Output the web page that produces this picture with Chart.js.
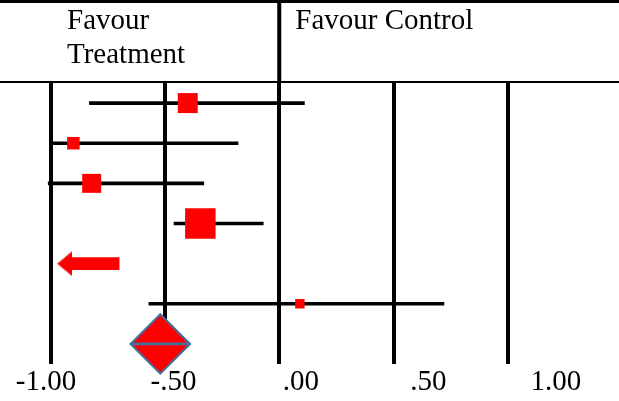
<!DOCTYPE html>
<html>
<head>
<meta charset="utf-8">
<script src="https://cdn.jsdelivr.net/npm/chart.js@4/dist/chart.umd.min.js"></script>
<style>
  html, body { margin: 0; padding: 0; background: #fff; }
  #wrap { width: 619px; height: 401px; position: relative; }
</style>
</head>
<body>
<div id="wrap"><canvas id="forest"></canvas></div>
<script>
// study rows (top to bottom), row 5 is the off-scale study drawn as an arrow
const studies = ['Study 1', 'Study 2', 'Study 3', 'Study 4', 'Study 5', 'Study 6'];
const estimates = [-0.40, -0.90, -0.82, -0.345, null, 0.09];
const lowerCI = [-0.83, -0.99, -1.01, -0.46, null, -0.57];
const upperCI = [0.11, -0.18, -0.33, -0.07, null, 0.72];
const weights = [20.6, 8.1, 18.6, 48.0, null, 4.6];

const arrowRow = 5;
const arrowTail = -0.70;
const arrowTip = -0.97;

const pooledEst = -0.52;
const pooledLo = -0.65;
const pooledHi = -0.39;
const pooledRow = 7;

const tickValues = [-1, -0.5, 0, 0.5, 1];
const tickLabels = ['-1.00', '-.50', '.00', '.50', '1.00'];

const RED = '#ff0000';
const BLUE = '#41719c';
const FONT = '"Liberation Serif", "Times New Roman", serif';

// arrow head glyph used as a point style
function makeArrowHead() {
    const c = document.createElement('canvas');
    c.width = 15;
    c.height = 25;
    const g = c.getContext('2d');
    g.fillStyle = RED;
    g.beginPath();
    g.moveTo(0, 12.5);
    g.lineTo(15, 0);
    g.lineTo(15, 25);
    g.closePath();
    g.fill();
    return c;
}

const ciData = [];
const pointData = [];
const pointSizes = [];
studies.forEach((s, i) => {
    if (lowerCI[i] !== null) ciData.push({ x: [lowerCI[i], upperCI[i]], y: i + 1 });
    if (estimates[i] !== null) {
        pointData.push({ x: estimates[i], y: i + 1 });
        // square side grows with sqrt of weight
        pointSizes.push(Math.sqrt(weights[i]) * 4.4 / Math.SQRT2);
    }
});

const headerPlugin = {
    id: 'header',
    afterDraw(chart) {
        const ctx = chart.ctx;
        const area = chart.chartArea;
        const x0 = chart.scales.x.getPixelForValue(0);
        ctx.save();
        ctx.strokeStyle = '#000';
        ctx.lineWidth = 3;
        ctx.beginPath();
        ctx.moveTo(0, 1.5);
        ctx.lineTo(chart.width, 1.5);
        ctx.stroke();
        ctx.lineWidth = 2;
        ctx.beginPath();
        ctx.moveTo(0, area.top - 1);
        ctx.lineTo(chart.width, area.top - 1);
        ctx.stroke();
        ctx.lineWidth = 4;
        ctx.beginPath();
        ctx.moveTo(x0, 0);
        ctx.lineTo(x0, area.top);
        ctx.stroke();

        ctx.fillStyle = '#000';
        ctx.font = '29px ' + FONT;
        ctx.textBaseline = 'alphabetic';
        ctx.textAlign = 'left';
        ctx.fillText('Favour', 67, 29);
        ctx.fillText('Treatment', 67, 63);
        ctx.fillText('Favour Control', x0 + 16, 29);
        ctx.restore();
    }
};

const ticksFromList = axis => { axis.ticks = tickValues.map(v => ({ value: v })); };

new Chart(document.getElementById('forest'), {
    type: 'scatter',
    data: {
        datasets: [
            {
                // pooled estimate centre line
                type: 'bar',
                indexAxis: 'y',
                data: [{ x: [pooledLo, pooledHi], y: pooledRow }],
                backgroundColor: BLUE,
                barThickness: 2,
                grouped: false,
                clip: false,
                order: 0
            },
            {
                label: 'Pooled',
                data: [{ x: pooledEst, y: pooledRow }],
                pointStyle: 'rectRot',
                pointRadius: ctx => {
                    const s = ctx.chart.scales.x;
                    return (s.getPixelForValue(pooledHi) - s.getPixelForValue(pooledLo)) / 2;
                },
                backgroundColor: RED,
                borderColor: BLUE,
                borderWidth: 2,
                clip: false,
                order: 1
            },
            {
                label: 'Estimate',
                data: pointData,
                pointStyle: 'rect',
                pointRadius: pointSizes,
                backgroundColor: RED,
                borderWidth: 0,
                clip: false,
                order: 2
            },
            {
                label: 'Arrow head',
                data: [{ x: arrowTip + 0.032, y: arrowRow }],
                pointStyle: makeArrowHead(),
                pointRadius: 8,
                clip: false,
                order: 3
            },
            {
                type: 'bar',
                indexAxis: 'y',
                data: [{ x: [arrowTip + 0.055, arrowTail], y: arrowRow }],
                backgroundColor: RED,
                barThickness: 12,
                grouped: false,
                clip: false,
                order: 4
            },
            {
                type: 'bar',
                indexAxis: 'y',
                label: 'CI',
                data: ciData,
                backgroundColor: '#000',
                barThickness: 3,
                grouped: false,
                clip: false,
                order: 5
            }
        ]
    },
    options: {
        responsive: true,
        maintainAspectRatio: false,
        animation: false,
        layout: { autoPadding: false, padding: { top: 83, left: 0, right: 0, bottom: 0 } },
        plugins: {
            legend: { display: false },
            tooltip: { enabled: false }
        },
        scales: {
            x: {
                type: 'linear',
                axis: 'x',
                position: 'bottom',
                min: -1.2208,
                max: 1.4852,
                offset: false,
                afterBuildTicks: ticksFromList,
                afterFit: axis => {
                    axis.height = 0;
                    axis.paddingLeft = 0;
                    axis.paddingRight = 0;
                },
                grid: { color: '#000', lineWidth: 4, drawTicks: false, offset: false },
                border: { display: false },
                ticks: { display: false }
            },
            x2: {
                type: 'linear',
                axis: 'x',
                position: 'bottom',
                min: -1.1804,
                max: 1.2471,
                offset: false,
                afterBuildTicks: ticksFromList,
                afterFit: axis => {
                    axis.height = 37;
                    axis.paddingLeft = 0;
                    axis.paddingRight = 0;
                },
                grid: { display: false, drawTicks: false, offset: false },
                border: { display: false },
                ticks: {
                    color: '#000',
                    padding: 1,
                    maxRotation: 0,
                    autoSkip: false,
                    font: { family: FONT, size: 29 },
                    callback: v => tickLabels[tickValues.indexOf(v)]
                }
            },
            y: {
                type: 'linear',
                display: false,
                reverse: true,
                offset: false,
                grid: { offset: false },
                min: 0.5,
                max: 7.5
            }
        }
    },
    plugins: [headerPlugin]
});
</script>
</body>
</html>
